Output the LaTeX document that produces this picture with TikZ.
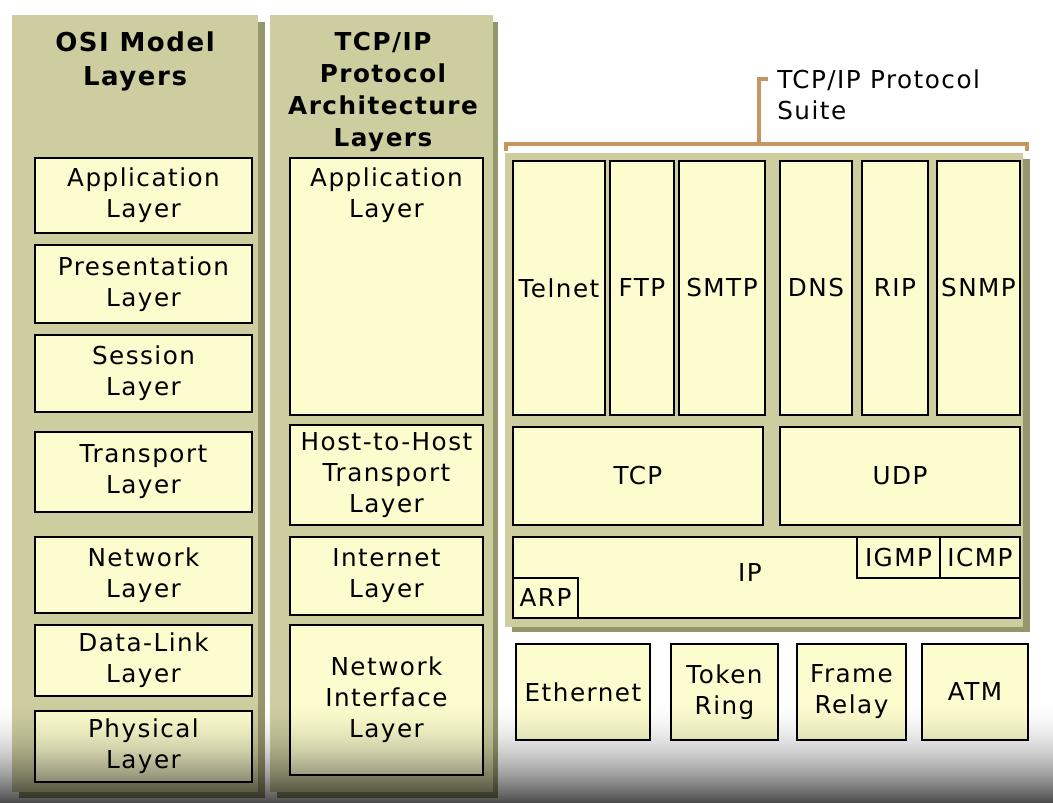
\documentclass[tikz,border=0pt]{standalone}
\usepackage{fontspec}
\setmainfont[LetterSpace=6]{DejaVu Sans}
\definecolor{panelc}{RGB}{205,205,160}
\definecolor{shadowc}{RGB}{150,150,108}
\definecolor{boxc}{RGB}{252,252,206}
\definecolor{brc}{RGB}{198,150,98}
\newcommand\bx[6]{\node[box, minimum width={(#4-#2)*0.75pt}, minimum height={(#5-#3)*0.75pt}] (#1) at ({(#2+#4)/2},{(#3+#5)/2}) {#6};}
\begin{document}
\begin{tikzpicture}[x=0.75pt,y=-0.75pt,
  box/.style={draw=black, line width=1.4pt, fill=boxc, inner sep=0pt, align=center,
    font=\fontsize{18.5}{23.25}\selectfont},
  txt/.style={inner sep=0pt, align=center, font=\fontsize{18.5}{23.25}\selectfont},
  ttl/.style={inner sep=0pt, align=center, font=\bfseries\fontsize{18.5}{24}\selectfont},
  panel/.style={fill=panelc},
  shadow/.style={fill=shadowc},
  brk/.style={draw=brc, line width=2.4pt}]
\useasboundingbox (0,0) rectangle (1053,803);
\fill[white] (0,0) rectangle (1053,803);
% panels
\fill[shadow] (19,22) rectangle (265,798);
\fill[panel] (12,15) rectangle (258,792);
\fill[shadow] (277,22) rectangle (498,798);
\fill[panel] (270,15) rectangle (493,792);
\fill[shadow] (512,159) rectangle (1030,632);
\fill[panel] (505,153) rectangle (1023,627);
% titles
\node[ttl, anchor=north, font=\bfseries\fontsize{19.5}{25.5}\selectfont] (osit) at (135,31) {OSI Model\\Layers};
\node[ttl, anchor=north] (archt) at (383,32) {TCP/IP\\Protocol\\Architecture\\Layers};
% OSI layers
\bx{oapp}{35}{158}{252}{233}{Application\\Layer}
\bx{opres}{35}{245}{252}{323}{Presentation\\Layer}
\bx{osess}{35}{335}{252}{412}{Session\\Layer}
\bx{otrans}{35}{432}{252}{512}{Transport\\Layer}
\bx{onet}{35}{537}{252}{613}{Network\\Layer}
\bx{odl}{35}{625}{252}{696}{Data-Link\\Layer}
\bx{ophys}{35}{711}{252}{782}{Physical\\Layer}
% TCP/IP architecture layers
\bx{aapp}{290}{158}{483}{415}{}
\node[txt, anchor=north] (aappt) at (386.5,167) {Application\\Layer};
\bx{ahost}{290}{425}{483}{525}{Host-to-Host\\Transport\\Layer}
\bx{ainet}{290}{537}{483}{615}{Internet\\Layer}
\bx{anet}{290}{625}{483}{775}{Network\\Interface\\Layer}
% protocol suite
\bx{telnet}{513}{161}{605}{415}{Telnet}
\bx{ftp}{610}{161}{674}{415}{FTP}
\bx{smtp}{679}{161}{765}{415}{SMTP}
\bx{dns}{780}{161}{852}{415}{DNS}
\bx{rip}{862}{161}{928}{415}{RIP}
\bx{snmp}{937}{161}{1020}{415}{SNMP}
\bx{tcp}{513}{427}{763}{525}{TCP}
\bx{udp}{780}{427}{1020}{525}{UDP}
\bx{ip}{513}{537}{1020}{618}{}
\node[txt] (ipt) at (750,573) {IP};
\bx{igmp}{857}{537}{940}{578}{IGMP}
\bx{icmp}{940}{537}{1020}{578}{ICMP}
\bx{arp}{513}{578}{578}{618}{ARP}
% network technologies
\bx{eth}{516}{644}{650}{740}{Ethernet}
\bx{tr}{671}{644}{778}{740}{Token\\Ring}
\bx{fr}{797}{644}{906}{740}{Frame\\Relay}
\bx{atm}{922}{644}{1028}{740}{ATM}
% bracket
\coordinate (bl) at (506,151);
\coordinate (blt) at (506,144);
\coordinate (brt) at (1027,144);
\coordinate (br) at (1027,151);
\coordinate (stem) at (759,144);
\coordinate (stemtop) at (759,79);
\coordinate (stemend) at (768,79);
\draw[brk] (bl) -- (blt) -- (brt) -- (br);
\draw[brk] (stem) -- (stemtop) -- (stemend);
\node[txt, anchor=north west, align=left] (suite) at (777,69) {TCP/IP Protocol\\Suite};
% bottom darkening
\foreach \i in {0,...,105} {
  \pgfmathsetmacro\op{0.7*(\i/105)^2}
  \fill[black, fill opacity=\op] (0,697+\i) rectangle (1053,698+\i);
}
\end{tikzpicture}
\end{document}
